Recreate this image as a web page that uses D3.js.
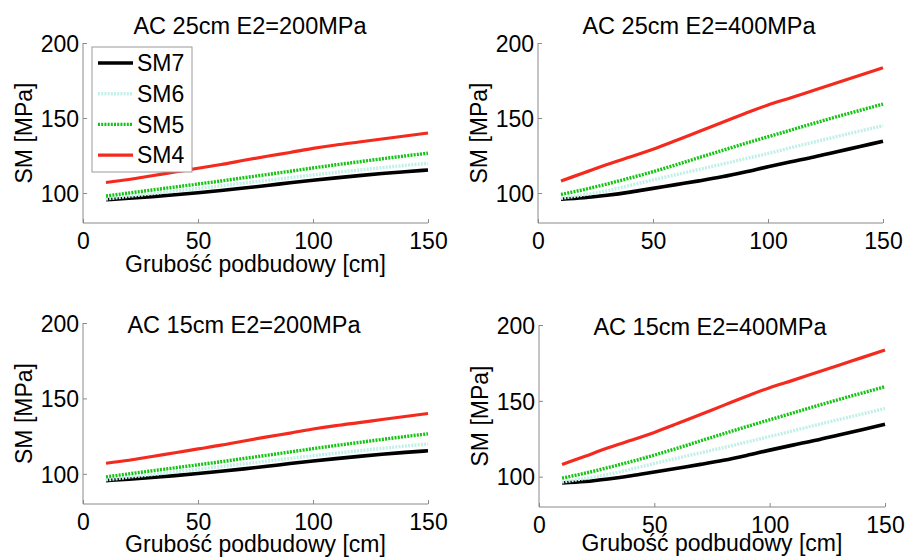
<!DOCTYPE html>
<html>
<head>
<meta charset="utf-8">
<script src="https://cdn.jsdelivr.net/npm/d3@7"></script>
<style>
  html, body { margin: 0; padding: 0; background: #fff; }
  svg { display: block; }
  text { font-family: "Liberation Sans", Arial, Helvetica, sans-serif; fill: #000; }
</style>
</head>
<body>
<svg id="chart" width="907" height="557"></svg>
<script>
// Base-course thickness [cm]
const thickness = [10, 20, 30, 40, 50, 60, 70, 80, 90, 100, 110, 120, 130, 140, 150];

const seriesNames = ["SM7", "SM6", "SM5", "SM4"];

// Subgrade modulus SM [MPa], base E2 = 200 MPa
const sm7_e200 = [95.5, 96.5, 97.6, 98.8, 100.2, 101.7, 103.3, 105.0, 106.8, 108.5, 110.1, 111.6, 113.0, 114.2, 115.3];
const sm6_e200 = [96.0, 97.8, 99.5, 101.3, 103.0, 104.8, 106.6, 108.4, 110.2, 112.0, 113.7, 115.3, 116.9, 118.4, 119.8];
const sm5_e200 = [98.0, 100.0, 102.0, 104.0, 106.0, 108.0, 110.2, 112.3, 114.5, 116.7, 118.8, 120.8, 122.8, 124.7, 126.5];
const sm4_e200 = [107.0, 109.0, 111.5, 114.0, 116.5, 119.0, 121.8, 124.5, 127.0, 129.7, 132.0, 134.0, 136.0, 138.0, 140.0];

// Subgrade modulus SM [MPa], base E2 = 400 MPa
const sm7_e400 = [95.8, 96.8, 98.5, 100.6, 103.1, 105.6, 108.1, 110.8, 114.0, 117.5, 120.8, 124.0, 127.5, 131.0, 134.5];
const sm6_e400 = [96.4, 98.8, 101.5, 105.0, 108.7, 112.2, 115.7, 119.2, 122.8, 126.4, 130.2, 134.0, 137.7, 141.3, 144.9];
const sm5_e400 = [99.0, 102.3, 106.0, 110.0, 114.2, 118.8, 123.6, 128.3, 133.0, 137.5, 142.0, 146.5, 150.9, 155.1, 159.3];
const sm4_e400 = [108.0, 113.5, 119.0, 124.0, 129.2, 135.0, 141.0, 147.0, 153.0, 158.7, 163.5, 168.5, 173.5, 178.5, 183.5];

const xTicks = [0, 50, 100, 150];
const yTicks = [100, 150, 200];
const xDomain = [0, 150];
const yDomain = [80, 200];

const panelTitles = ["AC 25cm E2=200MPa", "AC 25cm E2=400MPa", "AC 15cm E2=200MPa", "AC 15cm E2=400MPa"];
const xLabel = "Grubość podbudowy [cm]";
const yLabel = "SM [MPa]";

// line styling per series
const styles = {
  SM7: { color: "#000000", width: 3.6, dash: null },
  SM6: { color: "#c2f0e8", width: 3.4, dash: "2,1.2" },
  SM5: { color: "#14c414", width: 3.4, dash: "2,1.2" },
  SM4: { color: "#f52a1e", width: 3.2, dash: null }
};

const svg = d3.select("#chart");

const panels = [
  { title: panelTitles[0], series: [sm7_e200, sm6_e200, sm5_e200, sm4_e200],
    box: { x0: 83, x1: 428, y0: 43, y1: 223 }, titlePos: [250, 34], xLabelY: 272, showX: true, legend: true },
  { title: panelTitles[1], series: [sm7_e400, sm6_e400, sm5_e400, sm4_e400],
    box: { x0: 538, x1: 883, y0: 43, y1: 223 }, titlePos: [699, 34], xLabelY: null, showX: false, legend: false },
  { title: panelTitles[2], series: [sm7_e200, sm6_e200, sm5_e200, sm4_e200],
    box: { x0: 83, x1: 428, y0: 323, y1: 504 }, titlePos: [244, 333], xLabelY: 552, showX: true, legend: false },
  { title: panelTitles[3], series: [sm7_e400, sm6_e400, sm5_e400, sm4_e400],
    box: { x0: 539, x1: 885, y0: 325, y1: 507 }, titlePos: [710, 335], xLabelY: 551, showX: true, legend: false }
];

const FONT = 23;
const axisColor = "#8a8a8a";

panels.forEach(p => {
  const b = p.box;
  const x = d3.scaleLinear().domain(xDomain).range([b.x0, b.x1]);
  const y = d3.scaleLinear().domain(yDomain).range([b.y1, b.y0]);
  const g = svg.append("g");

  // data lines
  const line = d3.line()
    .x((d, i) => x(thickness[i]))
    .y(d => y(d))
    .curve(d3.curveMonotoneX);

  p.series.forEach((vals, si) => {
    const st = styles[seriesNames[si]];
    g.append("path")
      .datum(vals)
      .attr("d", line)
      .attr("fill", "none")
      .attr("stroke", st.color)
      .attr("stroke-width", st.width)
      .attr("stroke-dasharray", st.dash)
      .attr("stroke-linejoin", "round");
  });

  // x axis (ticks point inward)
  const xAxis = d3.axisBottom(x).tickValues(xTicks).tickSize(-4).tickPadding(8).tickFormat(d3.format("d"));
  const gx = g.append("g").attr("transform", `translate(0,${b.y1})`).call(xAxis);
  gx.select(".domain").attr("stroke", axisColor).attr("d", `M${b.x0},0H${b.x1}`);
  gx.selectAll(".tick line").attr("stroke", axisColor);
  gx.selectAll(".tick text")
    .attr("font-size", FONT)
    .attr("font-family", null)
    .attr("fill", "#000")
    .attr("dy", null)
    .attr("y", 26);

  // y axis (ticks point inward)
  const yAxis = d3.axisLeft(y).tickValues(yTicks).tickSize(-4).tickPadding(4).tickFormat(d3.format("d"));
  const gy = g.append("g").attr("transform", `translate(${b.x0},0)`).call(yAxis);
  gy.select(".domain").attr("stroke", axisColor).attr("d", `M0,${b.y0}V${b.y1}`);
  gy.selectAll(".tick line").attr("stroke", axisColor);
  gy.selectAll(".tick text")
    .attr("font-size", FONT)
    .attr("font-family", null)
    .attr("fill", "#000")
    .attr("x", -4)
    .attr("dy", "0.36em");

  // title
  g.append("text")
    .attr("x", p.titlePos[0]).attr("y", p.titlePos[1])
    .attr("text-anchor", "middle")
    .attr("font-size", 23.5)
    .text(p.title);

  // y label
  const ly = (b.y0 + b.y1) / 2;
  const lx = b.x0 - 51;
  g.append("text")
    .attr("transform", `translate(${lx},${ly}) rotate(-90)`)
    .attr("text-anchor", "middle")
    .attr("font-size", FONT)
    .text(yLabel);

  // x label
  if (p.showX) {
    g.append("text")
      .attr("x", (b.x0 + b.x1) / 2)
      .attr("y", p.xLabelY)
      .attr("text-anchor", "middle")
      .attr("font-size", FONT)
      .text(xLabel);
  }

  // legend
  if (p.legend) {
    const lg = g.append("g");
    lg.append("rect")
      .attr("x", 92).attr("y", 47)
      .attr("width", 100).attr("height", 125)
      .attr("fill", "#fff")
      .attr("stroke", "#9a9a9a")
      .attr("stroke-width", 1);
    seriesNames.forEach((name, i) => {
      const st = styles[name];
      const yy = 63 + i * 30.7;
      lg.append("line")
        .attr("x1", 98).attr("x2", 133)
        .attr("y1", yy).attr("y2", yy)
        .attr("stroke", st.color)
        .attr("stroke-width", st.width)
        .attr("stroke-dasharray", st.dash);
      lg.append("text")
        .attr("x", 137).attr("y", yy)
        .attr("dy", "0.36em")
        .attr("font-size", FONT)
        .text(name);
    });
  }
});
</script>
</body>
</html>
